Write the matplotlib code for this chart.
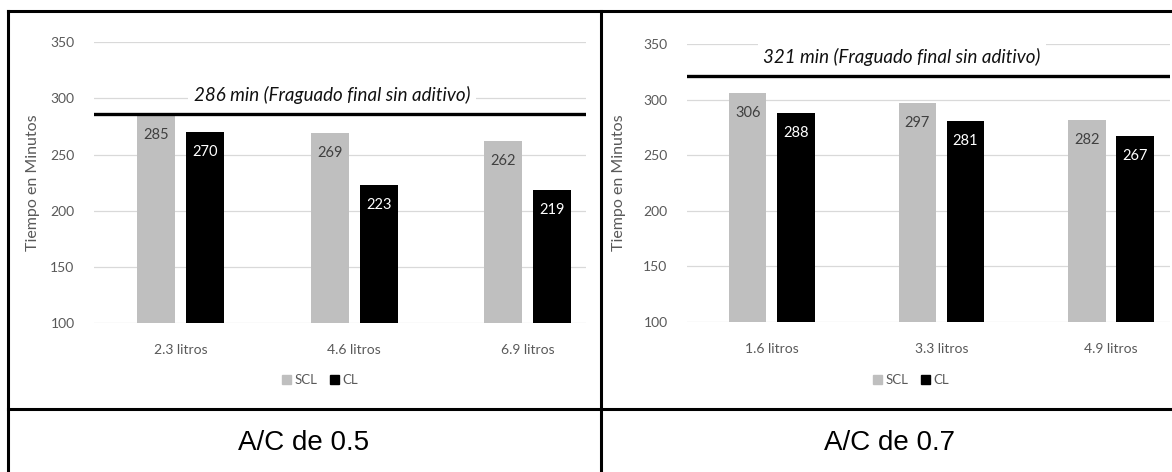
import numpy as np
import matplotlib.pyplot as plt
from matplotlib.lines import Line2D
from matplotlib.patches import Patch

# datos de fraguado final (minutos)
cats_05 = ['2.3 litros', '4.6 litros', '6.9 litros']
scl_05 = [285, 269, 262]
cl_05 = [270, 223, 219]
final_05 = 286

cats_07 = ['1.6 litros', '3.3 litros', '4.9 litros']
scl_07 = [306, 297, 282]
cl_07 = [288, 281, 267]
final_07 = 321

captions = ['A/C de 0.5', 'A/C de 0.7']

GRIS = '#bfbfbf'
TXT = '#595959'
FONT = ['Lato', 'DejaVu Sans']

W, H = 1172, 472
fig = plt.figure(figsize=(W / 100, H / 100), dpi=100)


def px_axes(x0, x1, ytop, ybot):
    return fig.add_axes([x0 / W, 1 - ybot / H, (x1 - x0) / W, (ybot - ytop) / H])


def panel(ax, cats, scl, cl, final, xmax, text_x, ylab_px):
    x = np.arange(len(cats))
    w, off = 0.22, 0.142
    b1 = ax.bar(x - off, np.array(scl) - 100, w, bottom=100, color=GRIS, zorder=2)
    b2 = ax.bar(x + off, np.array(cl) - 100, w, bottom=100, color='black', zorder=2)
    for rect, v in zip(b1, scl):
        ax.annotate(str(v), (rect.get_x() + rect.get_width() / 2, v),
                    xytext=(0, -20), textcoords='offset pixels',
                    ha='center', va='center', fontsize=10.5, color='#404040',
                    family=FONT, zorder=4)
    for rect, v in zip(b2, cl):
        ax.annotate(str(v), (rect.get_x() + rect.get_width() / 2, v),
                    xytext=(0, -20), textcoords='offset pixels',
                    ha='center', va='center', fontsize=10.5, color='white',
                    family=FONT, zorder=4)

    # linea del fraguado final sin aditivo
    ax.axhline(final, color='black', lw=2.4, zorder=3.5)
    ax.annotate('%d min (Fraguado final sin aditivo)' % final, (text_x, final),
                xytext=(0, 19), textcoords='offset pixels',
                ha='center', va='center', fontsize=13.5, style='italic',
                color='#111111', family=FONT, zorder=3,
                bbox=dict(fc='white', ec='none', pad=4))

    ax.set_ylim(100, 350)
    ax.set_xlim(-0.5, xmax)
    ax.set_yticks([100, 150, 200, 250, 300, 350])
    ax.set_xticks(x)
    ax.set_xticklabels(cats)
    ax.grid(axis='y', color='#d9d9d9', lw=0.9, zorder=0)
    ax.set_axisbelow(True)
    for s in ax.spines.values():
        s.set_visible(False)
    ax.tick_params(length=0, colors=TXT, labelsize=10)
    ax.tick_params(axis='y', pad=14)
    ax.tick_params(axis='x', pad=15)
    for lab in ax.get_xticklabels() + ax.get_yticklabels():
        lab.set_family(FONT)
    ax.set_ylabel('Tiempo en Minutos', fontsize=11.5, color=TXT, family=FONT)
    ax.yaxis.set_label_coords(ylab_px / ax.bbox.width, 0.5)


ax1 = px_axes(94, 586, 42.3, 323.3)
panel(ax1, cats_05, scl_05, cl_05, final_05, 2.336, 0.872, -54)
ax2 = px_axes(687, 1170, 44, 322)
panel(ax2, cats_07, scl_07, cl_07, final_07, 2.348, 0.768, -61)

handles = [Patch(color=GRIS, label='SCL'), Patch(color='black', label='CL')]
for cx in (320, 911):
    fig.legend(handles=handles, loc='center', bbox_to_anchor=(cx / W, 1 - 380 / H),
               ncol=2, frameon=False, handlelength=0.7, handleheight=0.7,
               handletextpad=0.3, columnspacing=0.9,
               prop={'family': FONT, 'size': 9.5}, labelcolor=TXT)

# marco de la tabla
lw = 2.2
bord = [((7.5, 7.5), (11, H)), ((601, 601), (11, H)),
        ((7.5, W), (11, 11)), ((7.5, W), (409, 409))]
for xs, ys in bord:
    fig.add_artist(Line2D([v / W for v in xs], [1 - v / H for v in ys],
                          color='black', lw=lw, solid_capstyle='projecting'))

for cx, txt in zip((304, 890), captions):
    fig.text(cx / W, 1 - 443 / H, txt, ha='center', va='center',
             fontsize=20, family=['Liberation Sans', 'DejaVu Sans'])

fig.savefig('out.png', dpi=100)
